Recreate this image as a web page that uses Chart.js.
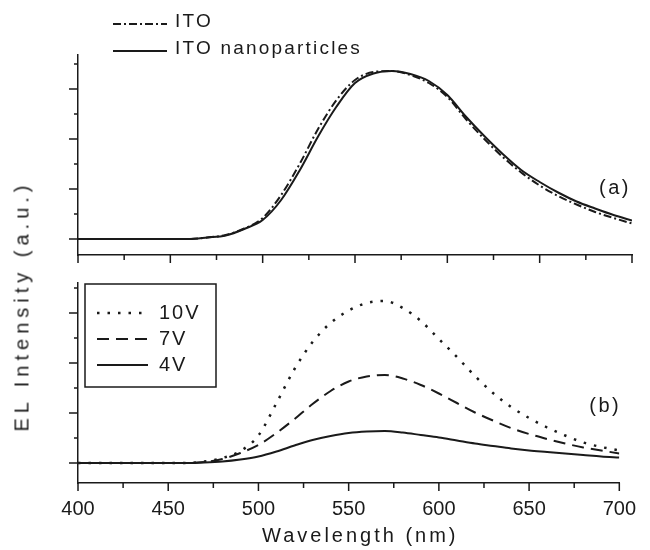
<!DOCTYPE html>
<html>
<head>
<meta charset="utf-8">
<script src="https://cdn.jsdelivr.net/npm/chart.js@4.4.1/dist/chart.umd.min.js"></script>
<style>
  html, body { margin: 0; padding: 0; background: #ffffff; }
  #wrap { position: relative; width: 650px; height: 550px; overflow: hidden;
          font-family: "Liberation Sans", Arial, sans-serif; color: #1a1a1a; }
  #ca { position: absolute; left: 0; top: 0; }
  #cb { position: absolute; left: 0; top: 270px; }
  #ytitle { position: absolute; left: 22px; top: 306px; white-space: nowrap;
            transform: translate(-50%, -50%) rotate(-90deg);
            font-size: 20px; letter-spacing: 5px; }
  #xtitle { position: absolute; left: 262px; top: 524px; white-space: nowrap;
            font-size: 20px; letter-spacing: 3px; }
</style>
</head>
<body>
<div id="wrap">
  <canvas id="ca" width="650" height="270"></canvas>
  <canvas id="cb" width="650" height="280"></canvas>
  <div id="ytitle">EL Intensity (a.u.)</div>
  <div id="xtitle">Wavelength (nm)</div>
</div>
<script>
// ---------------- data ----------------
const wavelength = [400,410,420,430,440,450,460,470,480,490,500,510,520,530,540,550,560,570,580,590,600,610,620,630,640,650,660,670,680,690,700];

// panel (a)
const itoValues      = [0,0,0,0,0,0,0,0.03,0.08,0.21,0.42,0.88,1.50,2.20,2.78,3.18,3.34,3.36,3.28,3.12,2.84,2.40,2.00,1.64,1.33,1.07,0.86,0.69,0.54,0.42,0.31];
const itoNanoValues  = [0,0,0,0,0,0,0,0.03,0.07,0.20,0.38,0.78,1.37,2.05,2.65,3.12,3.31,3.36,3.30,3.16,2.88,2.45,2.06,1.70,1.38,1.14,0.93,0.75,0.61,0.48,0.37];

// panel (b)
const v10Values = [0,0,0,0,0,0,0,0.03,0.10,0.24,0.55,1.20,1.88,2.42,2.80,3.05,3.20,3.24,3.10,2.84,2.48,2.12,1.74,1.40,1.12,0.90,0.71,0.55,0.41,0.32,0.25];
const v7Values  = [0,0,0,0,0,0,0,0.02,0.08,0.20,0.36,0.60,0.88,1.18,1.44,1.63,1.73,1.76,1.69,1.56,1.39,1.20,1.01,0.85,0.70,0.58,0.48,0.39,0.31,0.25,0.19];
const v4Values  = [0,0,0,0,0,0,0,0.01,0.03,0.07,0.13,0.23,0.35,0.46,0.54,0.60,0.63,0.64,0.61,0.56,0.51,0.45,0.39,0.34,0.29,0.25,0.22,0.19,0.16,0.13,0.11];

const seriesLabelsA = ["ITO", "ITO nanoparticles"];
const seriesLabelsB = ["10V", "7V", "4V"];
const panelLabels = ["(a)", "(b)"];

// ticks
const xTickValues = [400,425,450,475,500,525,550,575,600,625,650,675,700];
const xMajorStep = 50;
const yTickValues = [0,0.5,1,1.5,2,2.5,3,3.5];
const yMajorStep = 1;

// ---------------- styling / helpers ----------------
const INK = '#1a1a1a';
const FONT = "'Liberation Sans', Arial, sans-serif";
Chart.defaults.font.family = FONT;
Chart.defaults.font.size = 20;
Chart.defaults.color = INK;

const pts = vals => wavelength.map((w, i) => ({ x: w, y: vals[i] }));

const axisTicks = {
  id: 'axisTicks',
  afterDraw(chart) {
    const ctx = chart.ctx, xs = chart.scales.x, ys = chart.scales.y;
    ctx.save();
    ctx.strokeStyle = INK;
    ctx.lineWidth = 1.5;
    ctx.beginPath();
    xs.ticks.forEach(t => {
      const px = xs.getPixelForValue(t.value);
      const len = (Math.abs(t.value % xMajorStep) < 1e-9) ? 8 : 5;
      ctx.moveTo(px, xs.top);
      ctx.lineTo(px, xs.top + len);
    });
    ys.ticks.forEach(t => {
      const py = ys.getPixelForValue(t.value);
      const len = (Math.abs(t.value % yMajorStep) < 1e-9) ? 9 : 4;
      ctx.moveTo(ys.right, py);
      ctx.lineTo(ys.right - len, py);
    });
    ctx.stroke();
    ctx.restore();
  }
};

const customLegend = {
  id: 'customLegend',
  afterDraw(chart, args, o) {
    const ctx = chart.ctx, ca = chart.chartArea;
    ctx.save();
    if (o.box) {
      ctx.fillStyle = '#ffffff';
      ctx.strokeStyle = INK;
      ctx.lineWidth = 1.5;
      ctx.fillRect(ca.left + o.box[0], ca.top + o.box[1], o.box[2], o.box[3]);
      ctx.strokeRect(ca.left + o.box[0], ca.top + o.box[1], o.box[2], o.box[3]);
    }
    chart.data.datasets.forEach((ds, i) => {
      const y = ca.top + o.rowY[i];
      ctx.strokeStyle = ds.borderColor;
      ctx.lineWidth = ds.borderWidth;
      ctx.setLineDash(ds.borderDash || []);
      ctx.beginPath();
      ctx.moveTo(ca.left + o.lineX0, y);
      ctx.lineTo(ca.left + o.lineX1, y);
      ctx.stroke();
      ctx.setLineDash([]);
      ctx.fillStyle = INK;
      ctx.font = o.fontSize + 'px ' + FONT;
      if ('letterSpacing' in ctx) ctx.letterSpacing = o.spacing + 'px';
      ctx.textBaseline = 'middle';
      ctx.textAlign = 'left';
      ctx.fillText(ds.label, ca.left + o.textX, y + o.textDy);
    });
    // panel label
    ctx.font = '20px ' + FONT;
    if ('letterSpacing' in ctx) ctx.letterSpacing = '2.5px';
    ctx.textBaseline = 'middle';
    ctx.textAlign = 'left';
    ctx.fillStyle = INK;
    ctx.fillText(o.panel, ca.right - o.panelLeft, ca.bottom - o.panelUp);
    ctx.restore();
  }
};

function makeOptions(yMin, yMax, showXLabels, xAxisHeight, padTop, legendOpts) {
  return {
    responsive: false,
    devicePixelRatio: 1,
    animation: false,
    events: [],
    layout: { padding: { top: padTop, right: 18, left: 0, bottom: 0 } },
    elements: { point: { radius: 0 }, line: { tension: 0.4, cubicInterpolationMode: 'monotone' } },
    plugins: { legend: { display: false }, tooltip: { enabled: false }, customLegend: legendOpts },
    scales: {
      x: {
        type: 'linear', position: 'bottom', min: 400, max: 700,
        afterBuildTicks: s => { s.ticks = xTickValues.map(v => ({ value: v })); },
        afterFit: s => { s.height = xAxisHeight; },
        grid: { display: false, drawTicks: false },
        border: { display: true, color: INK, width: 1.5 },
        ticks: {
          display: showXLabels, autoSkip: false, maxRotation: 0, padding: 14,
          color: INK, font: { size: 20 },
          callback: v => (v % xMajorStep === 0 ? String(v) : '')
        }
      },
      y: {
        type: 'linear', position: 'left', min: yMin, max: yMax,
        afterBuildTicks: s => { s.ticks = yTickValues.map(v => ({ value: v })); },
        afterFit: s => { s.width = 78; },
        grid: { display: false, drawTicks: false },
        border: { display: true, color: INK, width: 1.5 },
        ticks: { display: false }
      }
    }
  };
}

new Chart(document.getElementById('ca'), {
  type: 'line',
  data: {
    datasets: [
      { label: seriesLabelsA[0], data: pts(itoValues), borderColor: INK, borderWidth: 2, borderDash: [8, 3, 2, 3] },
      { label: seriesLabelsA[1], data: pts(itoNanoValues), borderColor: INK, borderWidth: 2 }
    ]
  },
  options: makeOptions(-0.32, 3.68, false, 15, 55, {
    rowY: [-31, -4], lineX0: 35, lineX1: 89, textX: 97, textDy: -2,
    fontSize: 19, spacing: 2.2, panel: panelLabels[0], panelLeft: 33, panelUp: 67
  }),
  plugins: [axisTicks, customLegend]
});

new Chart(document.getElementById('cb'), {
  type: 'line',
  data: {
    datasets: [
      { label: seriesLabelsB[0], data: pts(v10Values), borderColor: INK, borderWidth: 2.5, borderDash: [2.5, 8] },
      { label: seriesLabelsB[1], data: pts(v7Values), borderColor: INK, borderWidth: 2, borderDash: [12, 7] },
      { label: seriesLabelsB[2], data: pts(v4Values), borderColor: INK, borderWidth: 2 }
    ]
  },
  options: makeOptions(-0.4, 3.6, true, 67, 13, {
    box: [7, 1, 131, 103], rowY: [30, 56, 82], lineX0: 19, lineX1: 70, textX: 81, textDy: 0,
    fontSize: 20, spacing: 2, panel: panelLabels[1], panelLeft: 30, panelUp: 77
  }),
  plugins: [axisTicks, customLegend]
});
</script>
</body>
</html>
